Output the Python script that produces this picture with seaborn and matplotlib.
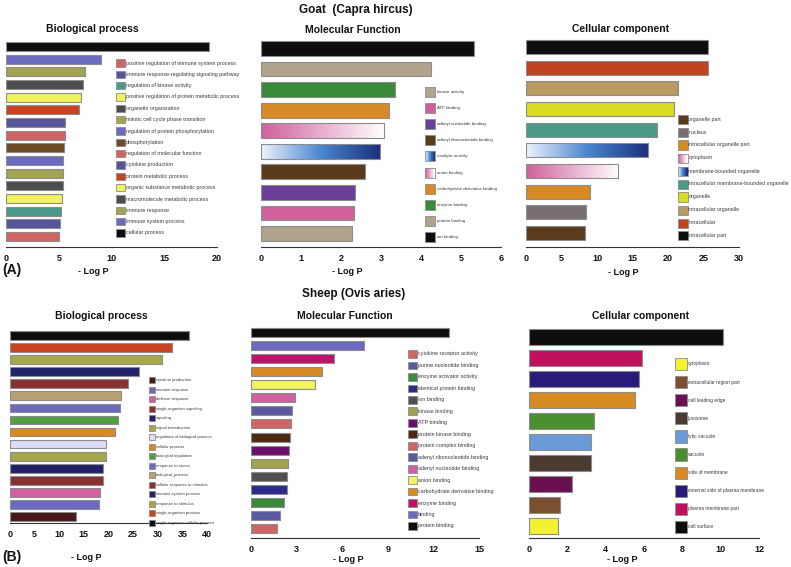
import numpy as np
import pandas as pd
import matplotlib
matplotlib.use("Agg")
import matplotlib.pyplot as plt
from matplotlib.patches import Rectangle
from matplotlib.colors import LinearSegmentedColormap
import seaborn as sns

W, H = 791, 567

# ------------------------------------------------------------------ data
# Goat - Biological process (bars top -> bottom)
goat_bp_terms = [
    "cellular process", "immune system process", "immune response",
    "macromolecule metabolic process", "organic substance metabolic process",
    "protein metabolic process", "cytokine production",
    "regulation of molecular function", "phosphorylation",
    "regulation of protein phosphorylation", "mitotic cell cycle phase transition",
    "organelle organization", "positive regulation of protein metabolic process",
    "regulation of kinase activity", "immune response-regulating signaling pathway",
    "positive regulation of immune system process"]
goat_bp_values = [19.2, 9.05, 7.5, 7.3, 7.1, 6.9, 5.6, 5.6, 5.5, 5.45, 5.45,
                  5.45, 5.3, 5.2, 5.15, 5.0]
goat_bp_colors = ["#0d0d0d", "#6b6bbf", "#a3a352", "#4d4d4d", "#f2f25c",
                  "#c8421e", "#55559c", "#d06464", "#6e4a26", "#6a6ac0",
                  "#a3a352", "#4d4d4d", "#f2f25c", "#4a9a8a", "#55559c", "#d06464"]

# Goat - Molecular function
goat_mf_terms = ["ion binding", "protein binding", "enzyme binding",
                 "carbohydrate derivative binding", "anion binding",
                 "catalytic activity", "adenyl ribonucleotide binding",
                 "adenyl nucleotide binding", "ATP binding", "kinase activity"]
goat_mf_values = [5.33, 4.25, 3.35, 3.21, 3.08, 2.98, 2.61, 2.36, 2.32, 2.27]
goat_mf_colors = ["#0d0d0d", "#b2a38c", "#3a8a3a", "#d98a28", "GRAD_PINK",
                  "GRAD_BLUE", "#5a3a1a", "#6a3f98", "#d0609c", "#b2a38c"]

# Goat - Cellular component
goat_cc_terms = ["intracellular part", "intracellular", "intracellular organelle",
                 "organelle", "intracellular membrane-bounded organelle",
                 "membrane-bounded organelle", "cytoplasm",
                 "intracellular organelle part", "nucleus", "organelle part"]
goat_cc_values = [25.7, 25.6, 21.45, 20.8, 18.5, 17.2, 13.0, 9.06, 8.4, 8.26]
goat_cc_colors = ["#0d0d0d", "#c04420", "#b89a62", "#d8dc22", "#4a9a88",
                  "GRAD_BLUE", "GRAD_PINK", "#d88a22", "#787070", "#5a3c1c"]

# Sheep - Biological process
sheep_bp_terms = [
    "single-organism cellular process", "single-organism process",
    "response to stimulus", "immune system process",
    "cellular response to stimulus", "biological_process", "response to stress",
    "biological regulation", "cellular process",
    "regulation of biological process", "signal transduction", "signaling",
    "single-organism signaling", "defense response", "immune response",
    "cytokine production"]
sheep_bp_values = [36.3, 32.95, 30.8, 26.1, 23.9, 22.6, 22.4, 22.0, 21.4, 19.4,
                   19.4, 18.9, 18.85, 18.2, 18.0, 13.4]
sheep_bp_colors = ["#0d0d0d", "#c84420", "#a8a848", "#22226a", "#8a3030",
                   "#b8a070", "#6a6ac0", "#50a040", "#d88a22", "#dcdcf4",
                   "#a8a848", "#22226a", "#8a3030", "#d060a0", "#6a6ac0", "#4a1818"]

# Sheep - Molecular function
sheep_mf_terms = ["protein binding", "binding", "enzyme binding",
                  "carbohydrate derivative binding", "anion binding",
                  "adenyl nucleotide binding", "adenyl ribonucleotide binding",
                  "protein complex binding", "protein kinase binding", "ATP binding",
                  "kinase binding", "ion binding", "identical protein binding",
                  "enzyme activator activity", "purine nucleotide binding",
                  "cytokine receptor activity"]
sheep_mf_values = [13.0, 7.45, 5.47, 4.7, 4.2, 2.87, 2.68, 2.63, 2.59, 2.5,
                   2.44, 2.37, 2.35, 2.18, 1.89, 1.72]
sheep_mf_colors = ["#0d0d0d", "#6a6ac0", "#c0106a", "#d88a22", "#f2f262",
                   "#d060a0", "#5a5aa0", "#d06464", "#4a2a10", "#6a106a",
                   "#a0a050", "#505050", "#2a2a8a", "#3a8a3a", "#5a5aa0", "#d06464"]

# Sheep - Cellular component
sheep_cc_terms = ["cell surface", "plasma membrane part",
                  "external side of plasma membrane", "side of membrane", "vacuole",
                  "lytic vacuole", "lysosome", "cell leading edge",
                  "extracellular region part", "cytoplasm"]
sheep_cc_values = [10.1, 5.9, 5.72, 5.55, 3.37, 3.22, 3.22, 2.26, 1.63, 1.53]
sheep_cc_colors = ["#0d0d0d", "#c01060", "#2a1a7a", "#d88a22", "#4a9030",
                   "#6a9ad8", "#4a3a30", "#6a1050", "#7a5030", "#f2f232"]

# ------------------------------------------------------------------ style
sns.set_theme(style="white")
plt.rcParams["font.family"] = ["Liberation Sans", "DejaVu Sans"]

fig = plt.figure(figsize=(W / 100, H / 100), dpi=100)
fig.patch.set_facecolor("white")

GRADS = {
    "GRAD_PINK": LinearSegmentedColormap.from_list("gp", ["#d0609c", "#ffffff"]),
    "GRAD_BLUE": LinearSegmentedColormap.from_list("gb", ["#eef2fc", "#4a86d0", "#1a2f7a"]),
}
GRAD_MID = {"GRAD_PINK": "#e8b0cc", "GRAD_BLUE": "#4a86d0"}


def fx(x):
    return x / W


def fy(y):
    return 1 - y / H


def panel(terms, values, colors, xmax, xticks, x0, x1, top, bottom, base, w):
    n = len(terms)
    pitch = (bottom - top) / (n - 1 + w)
    first_c = top + w / 2 * pitch
    ax_top = first_c - 0.5 * pitch
    ax = fig.add_axes([fx(x0), fy(base), (x1 - x0) / W, (base - ax_top) / H])
    df = pd.DataFrame({"term": terms, "value": values})
    pal = {t: GRAD_MID.get(c, c) for t, c in zip(terms, colors)}
    sns.barplot(data=df, y="term", x="value", hue="term", palette=pal,
                dodge=False, legend=False, width=w, ax=ax,
                edgecolor="#8c8c8c", linewidth=0.8, saturation=1)
    for p in ax.patches:
        idx = int(round(p.get_y() + p.get_height() / 2))
        c = colors[idx]
        if c in GRADS:
            grad = np.linspace(0, 1, 256).reshape(1, -1)
            im = ax.imshow(grad, cmap=GRADS[c], aspect="auto",
                           extent=(p.get_x(), p.get_x() + p.get_width(),
                                   p.get_y() + p.get_height(), p.get_y()),
                           zorder=p.get_zorder() - 0.01)
            im.set_clip_path(p)
            p.set_facecolor("none")
    ax.set_xlim(0, xmax)
    ax.set_ylim((base - first_c) / pitch, -0.5)
    ax.set_xticks(xticks)
    ax.set_xticklabels([str(t) for t in xticks], fontsize=6.5, fontweight="bold")
    ax.set_yticks([])
    ax.set_xlabel("")
    ax.set_ylabel("")
    for s in ["left", "right", "top"]:
        ax.spines[s].set_visible(False)
    ax.spines["bottom"].set_color("#333333")
    ax.spines["bottom"].set_linewidth(0.8)
    ax.tick_params(axis="x", direction="inout", length=6, width=0.8,
                   color="#333333", pad=2, labelcolor="#111111")
    ax.patch.set_alpha(0)
    return ax


def legend(terms, colors, sx, sw, sh, tx, y_first, y_last, fs):
    items = list(zip(terms, colors))[::-1]
    n = len(items)
    step = (y_last - y_first) / (n - 1)
    for i, (t, c) in enumerate(items):
        yc = y_first + i * step
        if c in GRADS:
            k = 14
            for j in range(k):
                fig.add_artist(Rectangle((fx(sx + sw * j / k), fy(yc + sh / 2)),
                                         sw / k / W + 0.0003, sh / H,
                                         transform=fig.transFigure,
                                         facecolor=GRADS[c](j / (k - 1)),
                                         edgecolor="none"))
            fig.add_artist(Rectangle((fx(sx), fy(yc + sh / 2)), sw / W, sh / H,
                                     transform=fig.transFigure, facecolor="none",
                                     edgecolor="#8c8c8c", linewidth=0.6))
        else:
            fig.add_artist(Rectangle((fx(sx), fy(yc + sh / 2)), sw / W, sh / H,
                                     transform=fig.transFigure, facecolor=c,
                                     edgecolor="#8c8c8c", linewidth=0.6))
        fig.text(fx(tx), fy(yc), t, fontsize=fs, va="center", ha="left",
                 color="#3a3a3a")


# ------------------------------------------------------------------ panels
panel(goat_bp_terms, goat_bp_values, goat_bp_colors, 20, [0, 5, 10, 15, 20],
      6, 217, 42, 241, 247, 0.7)
legend(goat_bp_terms, goat_bp_colors, 116, 8.5, 7.5, 126, 63, 233, 3.9)

panel(goat_mf_terms, goat_mf_values, goat_mf_colors, 6, [0, 1, 2, 3, 4, 5, 6],
      261, 501, 41, 241, 247, 0.72)
legend(goat_mf_terms, goat_mf_colors, 425, 10, 10, 437, 92, 237, 3.2)

panel(goat_cc_terms, goat_cc_values, goat_cc_colors, 30, [0, 5, 10, 15, 20, 25, 30],
      526, 739, 40, 240, 247, 0.68)
legend(goat_cc_terms, goat_cc_colors, 678, 9.5, 9, 688.5, 119, 236, 3.8)

panel(sheep_bp_terms, sheep_bp_values, sheep_bp_colors, 40,
      [0, 5, 10, 15, 20, 25, 30, 35, 40], 10, 207, 331, 521, 523, 0.72)
legend(sheep_bp_terms, sheep_bp_colors, 149, 5.5, 6, 156, 380, 523, 3.0)

panel(sheep_mf_terms, sheep_mf_values, sheep_mf_colors, 15, [0, 3, 6, 9, 12, 15],
      251, 479, 328, 533, 538, 0.69)
legend(sheep_mf_terms, sheep_mf_colors, 408, 9, 7.7, 418, 354, 526, 3.9)

panel(sheep_cc_terms, sheep_cc_values, sheep_cc_colors, 12, [0, 2, 4, 6, 8, 10, 12],
      529, 759, 329, 534, 538, 0.75)
legend(sheep_cc_terms, sheep_cc_colors, 674.5, 12.5, 12.3, 688, 364, 527, 3.5)

# ------------------------------------------------------------------ texts
def t(x, y, s, fs, bold=True, ha="center"):
    fig.text(fx(x), fy(y), s, fontsize=fs, fontweight="bold" if bold else "normal",
             ha=ha, va="center", color="#111111")

t(356, 10, "Goat  (Capra hircus)", 8.5)
t(354, 294, "Sheep (Ovis aries)", 8.5)

t(92, 29, "Biological process", 7.5)
t(353, 30, "Molecular Function", 7.5)
t(621, 29, "Cellular component", 7.5)
t(101, 316, "Biological process", 7.5)
t(345, 316, "Molecular Function", 7.5)
t(641, 316, "Cellular component", 7.5)

for (x, y) in [(93, 272), (347, 272), (623, 273), (86, 558), (348, 560), (622, 560)]:
    t(x, y, "- Log P", 6.5)

t(2, 270, "(A)", 10, ha="left")
t(2, 557, "(B)", 10, ha="left")

fig.savefig("out.png", dpi=100, facecolor="white")
